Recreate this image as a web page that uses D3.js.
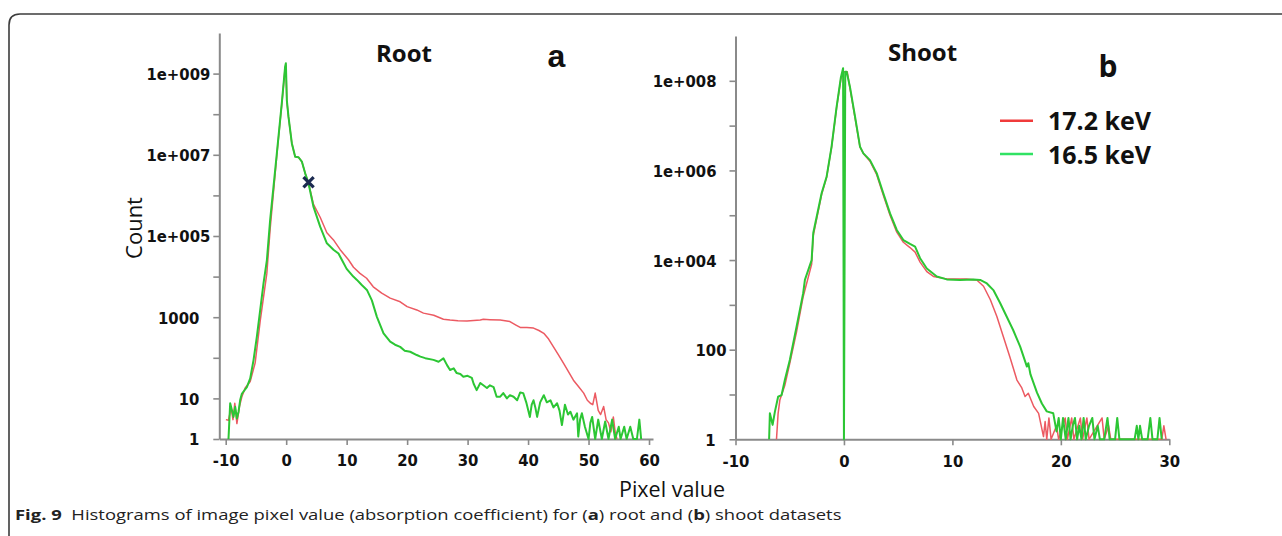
<!DOCTYPE html>
<html><head><meta charset="utf-8">
<script src="https://cdn.jsdelivr.net/npm/d3@7"></script>
<style>
html,body{margin:0;padding:0;background:#fff;}
svg{display:block;}
.tick text{font-family:"DejaVu Sans Condensed","DejaVu Sans",sans-serif;font-stretch:condensed;font-weight:bold;font-size:16.5px;fill:#111;}
</style></head><body>
<svg id="c" width="1282" height="536"></svg>
<script>
// ---------- DATA ----------
// Root (a) panel — pixel value vs count
const rootX_172 = [-9.97,-9.54,-9.1,-8.8,-8.5,-8.15,-7.72,-7.33,-6.78,-5.95,-5.13,-4.3,-3.2,-2.65,-1.54,-0.72,-0.17,-0.05,0.11,0.38,0.94,1.49,2.04,2.59,3.14,3.69,4.52,5.62,6.73,7.82,8.93,10.3,11.13,12.2,13.3,14.4,15.8,17.2,18.85,20.0,21.6,22.7,24.4,26.0,27.1,28.4,29.9,31.0,32.1,32.6,33.7,35.4,36.2,37.0,38.0,38.7,39.8,40.9,41.8,42.6,43.4,44.2,45.0,45.9,46.7,47.5,48.4,49.2,49.8,50.3,50.7,51.1,51.6,52.0,52.5,52.9,53.3,53.7,54.1,54.4,54.7];
const rootY_172 = [3,2.9,5.9,3,7.6,2.4,6.4,11,18,26,75,800,12000,1.5e5,1.0e7,1.8e8,1.4e9,1.6e9,2.1e8,8.5e7,1.9e7,8.9e6,8.7e6,6.8e6,3.5e6,2.0e6,6.0e5,2.9e5,1.2e5,8e4,4.6e4,2.6e4,1.7e4,1.2e4,9100,5600,3900,2950,2400,1820,1510,1260,1120,890,850,820,810,830,850,890,870,850,820,780,640,560,560,540,470,400,290,186,120,72,45,28,19,13.5,9,7.6,7,13.5,5.1,4,6.3,3,2.5,1.5,3.5,1.5,1];
const rootX_165 = [-9.54,-9.26,-8.98,-8.71,-8.43,-8.15,-7.88,-7.61,-7.33,-6.5,-5.95,-5.4,-4.85,-4.3,-3.75,-3.19,-2.65,-1.54,-0.72,-0.17,-0.05,0.11,0.38,0.94,1.49,2.04,2.59,3.14,3.69,4.52,5.62,6.73,7.82,8.65,9.2,10.0,11.1,11.7,12.5,13.35,14.17,15.0,16.1,17.2,18.0,18.85,19.6,20.5,21.6,22.2,23.0,24.36,25.2,26.0,26.6,27.1,27.7,28.2,28.8,29.3,30.0,30.7,31.0,31.5,32.1,32.6,33.2,33.7,34.3,34.8,35.4,35.9,36.5,37.0,37.6,38.2,38.7,39.2,39.7,40.3,40.6,40.9,41.2,41.5,42.0,42.6,43.1,43.7,44.2,44.8,45.2,45.6,46.1,46.6,47.0,47.5,48.1,48.3,48.6,48.9,49.4,50.0,50.3,50.6,51.1,51.6,52.2,52.75,53.3,53.9,54.4,55.0,55.3,55.9,56.3,56.9,57.4,58.0,58.4,58.7];
const rootY_165 = [1,7.6,5.2,3.5,6.2,3.2,4.7,9.1,13,19,31,88,330,1500,6800,25600,2.5e5,1.1e7,1.9e8,1.5e9,1.8e9,2.2e8,8.7e7,1.9e7,8.9e6,8.7e6,6.8e6,3.5e6,2.0e6,5.2e5,1.7e5,6.6e4,4.6e4,3.7e4,2.6e4,1.55e4,1.0e4,8300,6200,4700,2600,1020,400,250,210,186,150,141,117,107,98,89,80,97,66,50,55,42,40,34,36,32,23,16,24,21,18,21,19,11,11,13.5,10,12,11,9,14,13.5,8,3.5,7,9,6,3.5,8,12,8,9,6,7.6,5,2.2,7,4,4.7,3,4.3,1.15,3,4.3,2,1,2.5,3.5,1,3,1,2.7,1,3,1,2,1,2,1,2,1,1,3,1];
const rootMarkX = [3.7];
const rootMarkY = [2.1e6];

// Shoot (b) panel
const shootX_172 = [-6.22,-6.07,-5.91,-5.45,-4.99,-4.37,-3.76,-2.98,-2.83,-2.06,-1.6,-1.14,-0.68,-0.28,0.0,0.3,0.55,1.02,1.48,1.79,2.4,3.02,3.63,4.25,4.87,5.48,6.09,6.56,7.02,7.64,8.25,9.48,10.5,11.3,12.25,12.87,13.5,14.1,14.7,15.3,15.95,16.4,16.7,17.0,17.5,17.95,18.4,18.55,18.7,18.9,19.1,19.6,19.8,20.4,20.6,21.0,21.2,21.8,22.0,22.4,22.6,23.8,24.0,24.4,24.6,29.3,29.5,29.7];
const shootY_172 = [1,3.8,7.5,16,50,250,1520,8000,3.5e4,2.9e5,7e5,3.3e6,2.5e7,1.1e8,1.6e8,1.6e8,7e7,1.5e7,3.3e6,2.4e6,1.6e6,8e5,2.8e5,1.0e5,4.2e4,2.5e4,1.9e4,1.5e4,9000,5500,4300,3800,3800,3800,3600,2600,1300,550,195,69,21,14,9,10.7,5.4,3.8,1.15,2.5,1,3,1,2,1,3,1,3,1,3,1,3,1,3,1,2,1,1,2,1];
const shootX_165 = [-6.9,-6.83,-6.58,-6.37,-6.07,-5.75,-5.45,-4.99,-4.37,-3.76,-3.6,-2.98,-2.83,-2.06,-1.6,-1.14,-0.68,-0.28,-0.08,0.0,0.12,0.25,0.55,1.02,1.48,1.79,2.4,3.02,3.63,4.25,4.87,5.48,6.09,6.56,7.02,7.64,8.56,9.48,10.7,11.94,12.56,13.18,13.8,14.4,15.0,15.6,16.25,16.87,17.0,17.2,17.8,18.25,18.7,19.3,19.6,19.8,20.0,20.2,20.45,20.7,20.9,21.1,21.3,21.5,21.7,21.9,22.1,22.3,22.6,22.9,23.1,23.4,23.6,24.0,24.3,24.5,25.0,25.2,25.4,26.8,27.0,27.15,27.3,27.5,28.0,28.25,28.45,28.9,29.1,29.3];
const shootY_165 = [1,3.8,2.1,4.1,8.9,9.7,21,59,327,1820,3600,1e4,4e4,3.1e5,7.2e5,3.4e6,2.6e7,1.2e8,1.9e8,1,1.6e8,1.6e8,7.4e7,1.6e7,3.4e6,2.4e6,1.7e6,8.7e5,3.1e5,1.1e5,4.7e4,2.8e4,2.3e4,2.0e4,1.1e4,6500,4300,3700,3600,3700,3600,3000,2100,1100,550,275,117,42,50,28,11,6.3,4.2,3.8,1.5,3,1,3,1,3,1,2,3,1,2,1,3,1,2,3,1,2,1,1,3,1,1,3,1,1,2,1,2,1,1,3,1,1,3,1];

// Ticks
const rootXTicks = [-10,0,10,20,30,40,50,60];
const shootXTicks = [-10,0,10,20,30];
const rootYTicks = [1,10,100,1e3,1e4,1e5,1e6,1e7,1e8,1e9];
const rootYTickLabels = ["1","10","","1000","","1e+005","","1e+007","","1e+009"];
const shootYTicks = [1,10,100,1e3,1e4,1e5,1e6,1e7,1e8];
const shootYTickLabels = ["1","","100","","1e+004","","1e+006","","1e+008"];

const seriesNames = ["17.2 keV","16.5 keV"];
const lineColors = ["#ec5a62","#2cc634"];
const legendColors = ["#f03b3b","#30e263"];

// ---------- DRAW ----------
const svg = d3.select("#c");

// frame
svg.append("path")
  .attr("d","M9,545 L9,25 Q9,14 20,14 L1290,14")
  .attr("fill","none").attr("stroke","#3c3c3c").attr("stroke-width",1.6);

function panel(o){
  const x = d3.scaleLinear().domain(o.xDomain).range(o.xRange);
  const y = d3.scaleLog().domain(o.yDomain).range(o.yRange);
  const g = svg.append("g");

  const xa = g.append("g").attr("transform",`translate(0,${o.yRange[0]})`)
    .call(d3.axisBottom(x).tickValues(o.xTicks).tickSize(6).tickSizeOuter(0)
      .tickPadding(11).tickFormat(d=>String(d)));
  const ya = g.append("g").attr("transform",`translate(${o.xRange[0]},0)`)
    .call(d3.axisLeft(y).tickValues(o.yTicks).tickSize(6).tickSizeOuter(0)
      .tickFormat((d,i)=>o.yLabels[i]).tickPadding(3));
  [xa,ya].forEach(a=>{
    a.select(".domain").attr("stroke","#8a8a8a").attr("stroke-width",2);
    a.selectAll(".tick line").attr("stroke","#8a8a8a").attr("stroke-width",1.6);
  });
  ya.selectAll(".tick text").attr("dy","0.36em")
    .attr("x",(d,i)=> o.yLabelX(o.yLabels[i]));
  xa.selectAll(".tick text").attr("dy","0.62em");

  const line = d3.line().x(d=>x(d[0])).y(d=>y(d[1]));
  o.series.forEach((s,k)=>{
    g.append("path").datum(d3.zip(s.x,s.y))
      .attr("fill","none").attr("stroke",lineColors[k])
      .attr("stroke-width",k===0?1.5:2).attr("stroke-linejoin","round")
      .attr("d",line);
  });
  return {x,y,g};
}

const A = panel({
  xDomain:[-11.06,60.66], xRange:[219.3,653],
  yDomain:[1,1e10], yRange:[439,33],
  xTicks:rootXTicks, yTicks:rootYTicks, yLabels:rootYTickLabels,
  yLabelX:l=> l.includes("e") ? -9 : -20,
  series:[{x:rootX_172,y:rootY_172},{x:rootX_165,y:rootY_165}]
});
const B = panel({
  xDomain:[-10,30], xRange:[735.5,1169.3],
  yDomain:[1,1e9], yRange:[439.3,36],
  xTicks:shootXTicks, yTicks:shootYTicks, yLabels:shootYTickLabels,
  yLabelX:l=> l.includes("e") ? -19 : (l==="1" ? -20 : -9),
  series:[{x:shootX_172,y:shootY_172},{x:shootX_165,y:shootY_165}]
});

// marker
A.g.append("g").selectAll("path").data(d3.zip(rootMarkX,rootMarkY)).join("path")
  .attr("transform",d=>`translate(${A.x(d[0])},${A.y(d[1])})`)
  .attr("d",d3.symbol(d3.symbolTimes,70)())
  .attr("fill","none").attr("stroke","#1b2a50").attr("stroke-width",3.2);

// titles
const T = (x,y,txt,fam,size,weight,anchor)=>svg.append("text").attr("x",x).attr("y",y)
  .attr("font-family",fam).attr("font-size",size).attr("font-weight",weight)
  .attr("text-anchor",anchor||"middle").attr("fill","#111").text(txt);
T(404,61.5,"Root","Open Sans",24,"bold");
T(922.5,61,"Shoot","Open Sans",24,"bold");
T(556.5,67,"a","Liberation Sans",32,"bold");
T(1108,77,"b","Open Sans",30,"bold");

// axis titles
svg.append("text").attr("transform","translate(142,228) rotate(-90)")
  .attr("text-anchor","middle").attr("font-family","Open Sans").attr("font-size",22)
  .attr("fill","#111").text("Count");
T(672,497,"Pixel value","Open Sans",21.5,"normal");

// legend
const lg = svg.append("g");
seriesNames.forEach((n,i)=>{
  const yy = 120.7 + i*33.3;
  lg.append("line").attr("x1",1000).attr("x2",1033).attr("y1",yy).attr("y2",yy)
    .attr("stroke",legendColors[i]).attr("stroke-width",2.5);
  lg.append("text").attr("x",1048).attr("y",yy+9.5).attr("font-family","Open Sans")
    .attr("font-weight","bold").attr("font-size",25).attr("fill","#111").text(n);
});

// caption
const cap = svg.append("text").attr("font-family","Open Sans").attr("font-size",15).attr("fill","#222");
const parts = [["Fig. 9","bold"],["  Histograms of image pixel value (absorption coefficient) for (","normal"],["a","bold"],[") root and (","normal"],["b","bold"],[") shoot datasets","normal"]];
parts.forEach(p=>cap.append("tspan").attr("font-weight",p[1]).attr("xml:space","preserve").text(p[0]));
cap.attr("xml:space","preserve");
const w = cap.node().getComputedTextLength();
cap.attr("transform",`translate(15,520) scale(${827/w},1)`);
</script>
</body></html>
